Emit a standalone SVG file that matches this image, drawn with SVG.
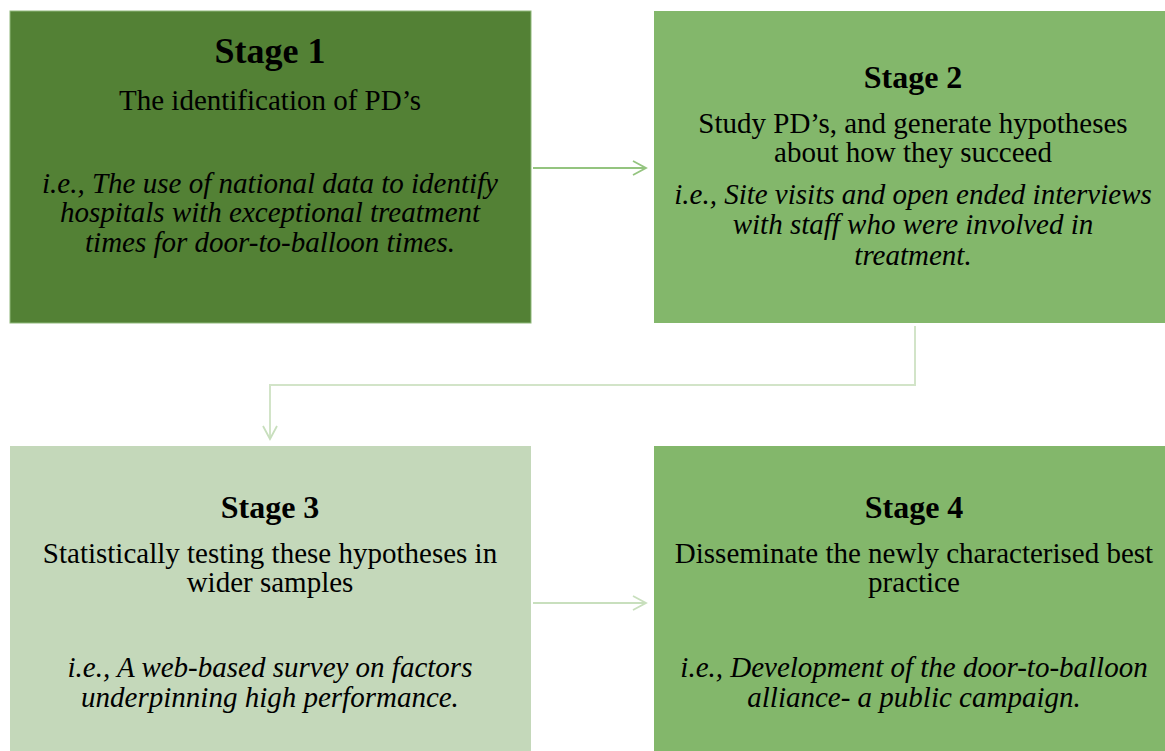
<svg xmlns="http://www.w3.org/2000/svg" width="1165" height="751" viewBox="0 0 1165 751">
  <style>
    .head { font-family: "Liberation Serif", "Times New Roman", serif; font-weight: bold; text-anchor: middle; fill: #000; }
    .body { font-family: "Liberation Serif", "Times New Roman", serif; font-size: 29px; text-anchor: middle; fill: #000; }
    .ex { font-family: "Liberation Serif", "Times New Roman", serif; font-size: 29px; font-style: italic; text-anchor: middle; fill: #000; }
    .conn { fill: none; stroke-width: 2; }
  </style>
  <defs>
    <marker id="chev-mid" viewBox="0 0 16 16" refX="14" refY="8" markerWidth="16" markerHeight="16" markerUnits="userSpaceOnUse" orient="auto">
      <path d="M1,1 L14,8 L1,15" fill="none" stroke="#94c47f" stroke-width="1.8"/>
    </marker>
    <marker id="chev-pale" viewBox="0 0 16 16" refX="14" refY="8" markerWidth="16" markerHeight="16" markerUnits="userSpaceOnUse" orient="auto">
      <path d="M1,1 L14,8 L1,15" fill="none" stroke="#c8dfbd" stroke-width="1.8"/>
    </marker>
  </defs>
  <rect width="1165" height="751" fill="#ffffff"/>

  <g id="connectors">
    <line class="conn" x1="533" y1="168" x2="646" y2="168" stroke="#94c47f" marker-end="url(#chev-mid)"/>
    <polyline class="conn" points="915,326 915,385 270,385 270,439" stroke="#d2e4c8" marker-end="url(#chev-pale)"/>
    <line class="conn" x1="533" y1="603" x2="646" y2="603" stroke="#c8dfbd" marker-end="url(#chev-pale)"/>
  </g>

  <g id="stage1">
    <rect x="10" y="11" width="521" height="312" fill="#538135" stroke="#8fb87a" stroke-width="1"/>
    <text class="head" x="270" y="63" font-size="36">Stage 1</text>
    <text class="body" x="270" y="110">The identification of PD’s</text>
    <text class="ex" x="270" y="193">i.e., The use of national data to identify</text>
    <text class="ex" x="270" y="222">hospitals with exceptional treatment</text>
    <text class="ex" x="270" y="252">times for door-to-balloon times.</text>
  </g>

  <g id="stage2">
    <rect x="654" y="11" width="511" height="312" fill="#83b76b"/>
    <text class="head" x="913" y="88" font-size="32">Stage 2</text>
    <text class="body" x="913" y="133">Study PD’s, and generate hypotheses</text>
    <text class="body" x="913" y="162">about how they succeed</text>
    <text class="ex" x="913" y="204">i.e., Site visits and open ended interviews</text>
    <text class="ex" x="913" y="234">with staff who were involved in</text>
    <text class="ex" x="913" y="265">treatment.</text>
  </g>

  <g id="stage3">
    <rect x="10" y="446" width="521" height="305" fill="#c4d8ba"/>
    <text class="head" x="270" y="518" font-size="32">Stage 3</text>
    <text class="body" x="270" y="563">Statistically testing these hypotheses in</text>
    <text class="body" x="270" y="592">wider samples</text>
    <text class="ex" x="270" y="677">i.e., A web-based survey on factors</text>
    <text class="ex" x="270" y="707">underpinning high performance.</text>
  </g>

  <g id="stage4">
    <rect x="654" y="446" width="511" height="305" fill="#83b76b"/>
    <text class="head" x="914" y="518" font-size="32">Stage 4</text>
    <text class="body" x="914" y="563">Disseminate the newly characterised best</text>
    <text class="body" x="914" y="592">practice</text>
    <text class="ex" x="914" y="677">i.e., Development of the door-to-balloon</text>
    <text class="ex" x="914" y="707">alliance- a public campaign.</text>
  </g>
</svg>
